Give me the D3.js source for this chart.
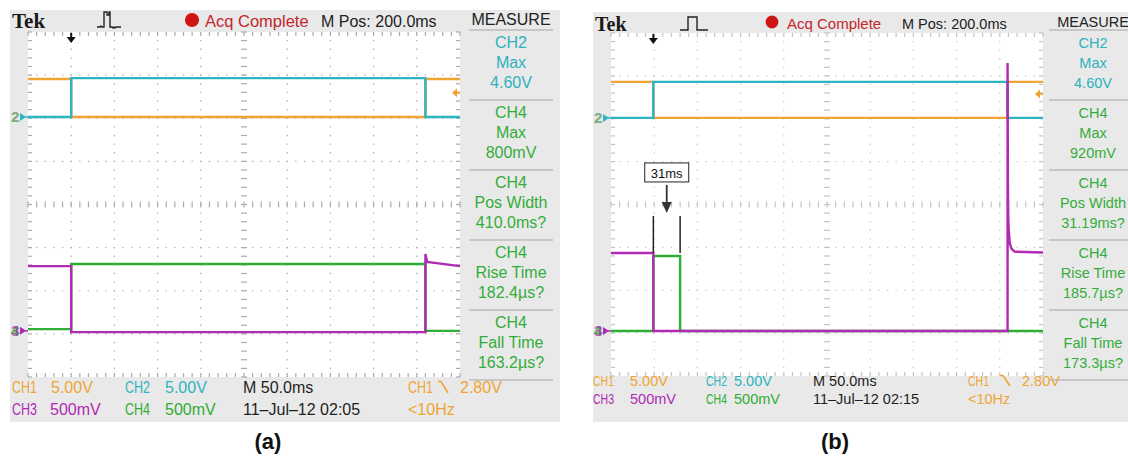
<!DOCTYPE html>
<html><head><meta charset="utf-8">
<script src="https://cdn.jsdelivr.net/npm/d3@7"></script>
<style>html,body{margin:0;padding:0;background:#fff;}svg{display:block;}</style>
</head><body>
<svg id="chart" width="1128" height="459"></svg>
<script>
// ---------- data (time in ms, 50 ms/div; vertical in divisions) ----------
const timeDomain = [0, 500];
const divDomain = [-4, 4];

const aCh1 = [[0,2.91],[50,2.91],[50,2.03],[460,2.03],[460,2.91],[500,2.91]];
const aCh2 = [[0,2.03],[50,2.03],[50,2.93],[460,2.93],[460,2.03],[500,2.03]];
const aCh3 = [[0,-1.43],[50,-1.43],[50,-2.96],[460,-2.96],[460,-1.15],[462,-1.33],[500,-1.43]];
const aCh4 = [[0,-2.89],[50,-2.89],[50,-1.38],[460,-1.38],[460,-2.93],[500,-2.93]];

const bCh1 = [[0,2.86],[49,2.86],[49,2.02],[459,2.02],[459,2.86],[500,2.86]];
const bCh2 = [[0,2.02],[49,2.02],[49,2.86],[459,2.86],[459,2.02],[500,2.02]];
const bCh3 = [[0,-1.13],[49,-1.13],[49,-2.95],[459,-2.95],[459,3.30],[459.4,0.41],[459.8,-0.3],[460.3,-0.59],[461.5,-0.9],[463.5,-1.03],[467,-1.1],[500,-1.12]];
const bCh4 = [[0,-2.95],[49,-2.95],[49,-1.2],[80,-1.2],[80,-2.95],[500,-2.95]];

const groundCh12 = [2.03, 2.02];
const groundCh34 = [-2.93, -2.95];
const triggerTime = [50, 49];
const triggerLevelDiv = [2.59, 2.58];

const aMeasure = [["CH2","Max","4.60V"],["CH4","Max","800mV"],["CH4","Pos Width","410.0ms?"],["CH4","Rise Time","182.4µs?"],["CH4","Fall Time","163.2µs?"]];
const bMeasure = [["CH2","Max","4.60V"],["CH4","Max","920mV"],["CH4","Pos Width","31.19ms?"],["CH4","Rise Time","185.7µs?"],["CH4","Fall Time","173.3µs?"]];

const headerTexts = ["Tek", "Acq Complete", "M Pos: 200.0ms", "MEASURE"];
const aBottomRow1 = [["CH1","ch1"],["5.00V","ch1"],["CH2","ch2"],["5.00V","ch2"],["M 50.0ms","k"],["CH1","ch1"],["2.80V","ch1"]];
const aBottomRow2 = [["CH3","ch3"],["500mV","ch3"],["CH4","ch4"],["500mV","ch4"],["11\u2013Jul\u201312 02:05","k"],["<10Hz","ch1"]];
const bBottomRow2Date = "11\u2013Jul\u201312 02:15";

const annotB = {label: "31ms", t0: 49, t1: 80, level: -1.2};
const captions = ["(a)", "(b)"];

// ---------- styles ----------
const COL = {ch1:"#eea534", ch2:"#2db5c2", ch3:"#b02ab4", ch4:"#2fae34", k:"#1e1e1e", red:"#c4262b", meas2:"#2cb2c0", meas4:"#33ad3a"};
const FONT = "'Liberation Sans', Arial, sans-serif";

const svg = d3.select("#chart");

const panels = [
  {gx:10, gy:10, gw:550, gh:412, x0:28, y0:32, w:432, h:345, fs:16, grid:"#ababab", chLen:25,
   traces:[aCh1,aCh2,aCh4,aCh3], meas:aMeasure, measX:511, measL:469, measR:553,
   tekX:12, tekY:28, tekFs:21, dotX:192, acqX:205, mposX:321, hdrY:27,
   botX:[12,51,125,165,243,408,460], botX2:[12,50,125,165,243,408], row1:393, row2:415, slashX:441, date:null,
   pulse:"M97,27 h3 l1,-1 l1,1 h2 V12 h3 v3 h2 v-3 h1 V27 h2 l1,1 l1,-1 l1,1 l1,-1 h5"},
  {gx:593, gy:12, gw:535, gh:410, x0:611, y0:33, w:432, h:343, fs:14.5, grid:"#c4c4c4", chLen:21,
   traces:[bCh1,bCh2,bCh4,bCh3], meas:bMeasure, measX:1093, measL:1049, measR:1128,
   tekX:595, tekY:31, tekFs:20, dotX:772, acqX:787, mposX:902, hdrY:29,
   botX:[593,630,706,734,813,968,1022], botX2:[593,630,706,734,813,968], row1:386, row2:404, slashX:1003, date:bBottomRow2Date,
   pulse:"M680,30 H688 V17 H697 V30 H708"}
];

panels.forEach((p, pi) => {
  const g = svg.append("g");
  const xs = d3.scaleLinear().domain(timeDomain).range([p.x0, p.x0 + p.w]);
  const ys = d3.scaleLinear().domain(divDomain).range([p.y0 + p.h, p.y0]);
  const sx = p.w / 10, sy = p.h / 8;

  g.append("rect").attr("x",p.gx).attr("y",p.gy).attr("width",p.gw).attr("height",p.gh).attr("fill","#e9e9e9");
  g.append("rect").attr("x",p.x0).attr("y",p.y0).attr("width",p.w).attr("height",p.h).attr("fill","#ffffff");

  // grid
  const grid = g.append("g").attr("stroke", p.grid).attr("stroke-width", 1.2);
  d3.range(1,10).forEach(i => {
    if (i === 5) return;
    grid.append("line").attr("x1",p.x0+i*sx).attr("x2",p.x0+i*sx).attr("y1",p.y0).attr("y2",p.y0+p.h)
      .attr("stroke-dasharray",`1.3 ${sy/5-1.3}`).attr("stroke-dashoffset",0.65);
  });
  d3.range(1,8).forEach(j => {
    if (j === 4) return;
    grid.append("line").attr("y1",p.y0+j*sy).attr("y2",p.y0+j*sy).attr("x1",p.x0).attr("x2",p.x0+p.w)
      .attr("stroke-dasharray",`1.3 ${sx/5-1.3}`).attr("stroke-dashoffset",0.65);
  });
  d3.range(0,51).forEach(k => {
    const x = p.x0 + k*sx/5;
    grid.append("line").attr("x1",x).attr("x2",x).attr("y1",p.y0+p.h/2-3).attr("y2",p.y0+p.h/2+3);
    grid.append("line").attr("x1",x).attr("x2",x).attr("y1",p.y0).attr("y2",p.y0+4);
    grid.append("line").attr("x1",x).attr("x2",x).attr("y1",p.y0+p.h-4).attr("y2",p.y0+p.h);
  });
  d3.range(0,41).forEach(k => {
    const y = p.y0 + k*sy/5;
    grid.append("line").attr("y1",y).attr("y2",y).attr("x1",p.x0+p.w/2-3).attr("x2",p.x0+p.w/2+3);
    grid.append("line").attr("y1",y).attr("y2",y).attr("x1",p.x0).attr("x2",p.x0+4);
    grid.append("line").attr("y1",y).attr("y2",y).attr("x1",p.x0+p.w-4).attr("x2",p.x0+p.w);
  });

  // traces
  const line = d3.line().x(d => xs(d[0])).y(d => ys(d[1]));
  const tcols = [COL.ch1, COL.ch2, COL.ch4, COL.ch3];
  p.traces.forEach((t, i) => {
    g.append("path").attr("d", line(t)).attr("fill","none").attr("stroke", tcols[i])
      .attr("stroke-width", 2.4).attr("stroke-linejoin","miter");
  });

  // annotation (panel b)
  if (pi === 1) {
    const a = annotB;
    const yl = ys(a.level);
    const xm = xs((a.t0 + a.t1) / 2);
    [a.t0, a.t1].forEach(t => {
      g.append("line").attr("x1",xs(t)).attr("x2",xs(t)).attr("y1",yl-3).attr("y2",yl-40)
        .attr("stroke","#222").attr("stroke-width",1.5);
    });
    g.append("line").attr("x1",xm).attr("x2",xm).attr("y1",yl-71).attr("y2",yl-52).attr("stroke","#333").attr("stroke-width",1.8);
    g.append("path").attr("d",`M${xm-5},${yl-54} L${xm+5},${yl-54} L${xm},${yl-43} Z`).attr("fill","#333");
    g.append("rect").attr("x",xm-22).attr("y",yl-93).attr("width",44).attr("height",19)
      .attr("fill","#fff").attr("stroke","#222").attr("stroke-width",1);
    g.append("text").attr("x",xm).attr("y",yl-78).attr("text-anchor","middle")
      .attr("font-family",FONT).attr("font-size",13).attr("fill","#111").text(a.label);
  }

  // trigger position arrow
  const tx = xs(triggerTime[pi]);
  g.append("line").attr("x1",tx).attr("x2",tx).attr("y1",p.y0+1).attr("y2",p.y0+6).attr("stroke","#111").attr("stroke-width",2);
  g.append("path").attr("d",`M${tx-4.5},${p.y0+5} L${tx+4.5},${p.y0+5} L${tx},${p.y0+11} Z`).attr("fill","#111");

  // trigger level arrow
  const ty = ys(triggerLevelDiv[pi]);
  g.append("path").attr("d",`M${p.x0+p.w-8},${ty} L${p.x0+p.w-3},${ty-4.5} L${p.x0+p.w-3},${ty+4.5} Z`).attr("fill",COL.ch1);
  g.append("line").attr("x1",p.x0+p.w-4).attr("x2",p.x0+p.w).attr("y1",ty).attr("y2",ty).attr("stroke",COL.ch1).attr("stroke-width",2);

  // ground markers
  const gm = (yv, labels) => {
    const y = ys(yv);
    labels.forEach(([txt, c, op]) => {
      g.append("text").attr("x",p.x0-17).attr("y",y+5.5).attr("font-family",FONT).attr("font-weight","bold")
        .attr("font-size",15).attr("fill",c).attr("opacity",op).text(txt);
    });
    const c = labels[labels.length-1][1];
    g.append("path").attr("d",`M${p.x0-8},${y-4} L${p.x0-2},${y} L${p.x0-8},${y+4} Z`).attr("fill",c);
    g.append("line").attr("x1",p.x0-3).attr("x2",p.x0).attr("y1",y).attr("y2",y).attr("stroke",c).attr("stroke-width",1.5);
  };
  gm(groundCh12[pi], [["2", COL.ch1, 1],["2", COL.ch2, 0.6]]);
  gm(groundCh34[pi], [["4", COL.ch4, 0.9],["3", COL.ch3, 0.7]]);

  // header
  g.append("text").attr("x",p.tekX).attr("y",p.tekY).attr("font-family","'Liberation Serif', serif").attr("font-weight","bold")
    .attr("font-size",p.tekFs).attr("fill","#1a1a1a").text(headerTexts[0]);
  g.append("path").attr("d",p.pulse).attr("fill","none").attr("stroke","#222").attr("stroke-width",1.4);
  g.append("circle").attr("cx",p.dotX).attr("cy",p.hdrY-7).attr("r",p.fs*0.44).attr("fill","#cc1414");
  g.append("text").attr("x",p.acqX).attr("y",p.hdrY).attr("font-family",FONT).attr("font-size",p.fs+0.5).attr("fill",COL.red).text(headerTexts[1]);
  g.append("text").attr("x",p.mposX).attr("y",p.hdrY).attr("font-family",FONT).attr("font-size",p.fs).attr("fill","#222").text(headerTexts[2]);
  g.append("text").attr("x",p.measX).attr("y",p.hdrY-2).attr("text-anchor","middle").attr("font-family",FONT).attr("font-size",p.fs)
    .attr("fill","#222").text(headerTexts[3]);

  // measure column
  const sepY = [30, 100, 170, 240, 310, 380];
  sepY.forEach(y => g.append("line").attr("x1",p.measL).attr("x2",p.measR).attr("y1",y).attr("y2",y)
    .attr("stroke","#a5a5a5").attr("stroke-width",1));
  p.meas.forEach((grp, gi) => {
    grp.forEach((txt, li) => {
      g.append("text").attr("x",p.measX).attr("y",sepY[gi] + 18 + li*20).attr("text-anchor","middle")
        .attr("font-family",FONT).attr("font-size",p.fs).attr("fill", gi === 0 ? COL.meas2 : COL.meas4).text(txt);
    });
  });

  // bottom readout
  const putText = (txt, c, x, y) => {
    const t = g.append("text").attr("x",x).attr("y",y).attr("font-family",FONT).attr("font-size",p.fs)
      .attr("fill",COL[c]).text(txt);
    if (/^CH\d$/.test(txt)) t.attr("textLength", p.chLen).attr("lengthAdjust","spacingAndGlyphs");
  };
  aBottomRow1.forEach(([txt, c], i) => putText(txt, c, p.botX[i], p.row1));
  aBottomRow2.forEach(([txt, c], i) => putText((i === 4 && p.date) ? p.date : txt, c, p.botX2[i], p.row2));
  const sl = p.slashX, cap = p.fs*0.72;
  g.append("path").attr("d",`M${sl-3},${p.row1-cap} H${sl} L${sl+7},${p.row1}`).attr("fill","none")
    .attr("stroke",COL.ch1).attr("stroke-width",1.6);

  // caption
  g.append("text").attr("x", p.x0 + p.w/2 + (pi===0 ? 24 : 8)).attr("y", 449).attr("text-anchor","middle")
    .attr("font-family",FONT).attr("font-weight","bold").attr("font-size",22).attr("fill","#111").text(captions[pi]);
});
</script>
</body></html>
